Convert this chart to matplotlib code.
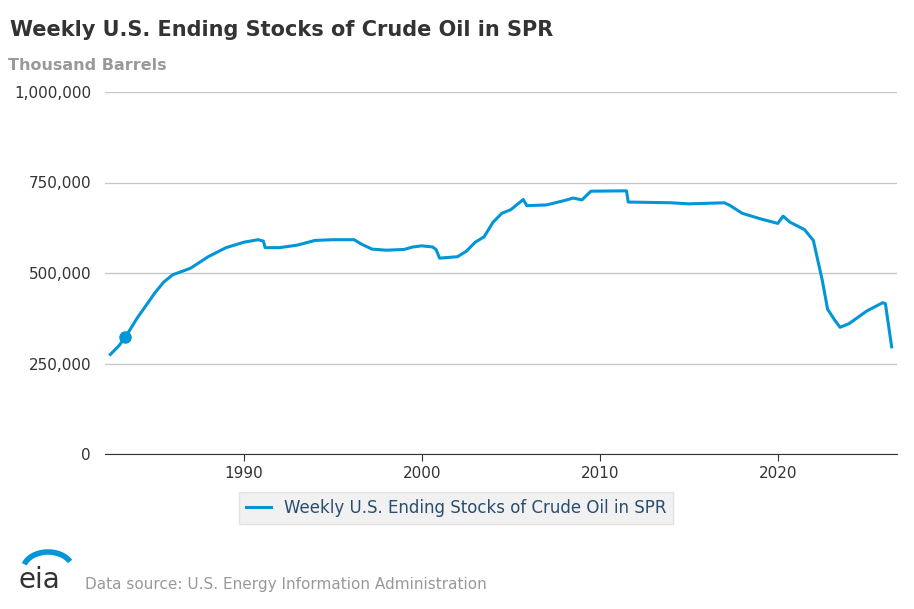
import numpy as np
import matplotlib.pyplot as plt
from matplotlib.patches import Arc

# weekly SPR ending stocks, thousand barrels
years = [1982.5, 1983.0, 1983.5, 1984.0, 1984.5, 1985.0, 1985.5, 1986.0, 1987.0, 1988.0,
         1989.0, 1990.0, 1990.8, 1991.1, 1991.2, 1992.0, 1993.0, 1994.0, 1995.0, 1996.2,
         1996.6, 1997.2, 1998.0, 1999.0, 1999.5, 2000.0, 2000.6, 2000.8, 2001.0, 2002.0,
         2002.5, 2003.0, 2003.5, 2004.0, 2004.5, 2005.0, 2005.7, 2005.9, 2007.0, 2008.0,
         2008.5, 2009.0, 2009.5, 2011.5, 2011.6, 2014.0, 2015.0, 2017.0, 2017.3, 2018.0,
         2019.0, 2020.0, 2020.3, 2020.7, 2021.5, 2022.0, 2022.5, 2022.8, 2023.2, 2023.5,
         2024.0, 2025.0, 2025.9, 2026.05, 2026.4]
stocks = [275, 300, 335, 375, 410, 445, 475, 495, 513, 545,
          570, 585, 592, 588, 570, 570, 577, 590, 592, 592,
          580, 566, 563, 565, 572, 575, 572, 565, 541, 545,
          560, 585, 600, 640, 665, 675, 703, 686, 688, 700,
          707, 702, 726, 727, 696, 694, 691, 694, 687, 665,
          650, 637, 657, 640, 620, 590, 480, 400, 370, 350,
          360, 395, 418, 415, 296]
marker_year, marker_val = 1983.3, 323

blue = '#0096d7'
fig = plt.figure(figsize=(9.14, 6.09), dpi=100)
ax = fig.add_axes([105/914, 1-454/609, 792/914, 362/609])
ax.plot(years, np.array(stocks) * 1000, color=blue, linewidth=2.2)
ax.plot(marker_year, marker_val * 1000, 'o', color=blue, markersize=8)

ax.set_xlim(1982.2, 2026.7)
ax.set_ylim(0, 1000000)
ax.set_yticks([0, 250000, 500000, 750000, 1000000])
ax.yaxis.set_major_formatter(plt.FuncFormatter(lambda v, p: f'{int(v):,}'))
ax.set_xticks([1990, 2000, 2010, 2020])
ax.grid(axis='y', color='#c8c8c8', linewidth=1)
ax.set_axisbelow(True)
for s in ['top', 'right', 'left']:
    ax.spines[s].set_visible(False)
ax.spines['bottom'].set_color('#333333')
ax.tick_params(axis='y', length=0, labelsize=11, colors='#333333', pad=10)
ax.tick_params(axis='x', length=5, labelsize=11, colors='#333333', color='#333333')

fig.text(10/914, 1-30/609, 'Weekly U.S. Ending Stocks of Crude Oil in SPR',
         fontsize=15, fontweight='bold', color='#333333', va='center')
fig.text(8/914, 1-66/609, 'Thousand Barrels', fontsize=11.5, fontweight='bold',
         color='#999999', va='center')

leg = ax.legend(['Weekly U.S. Ending Stocks of Crude Oil in SPR'], loc='center',
                bbox_to_anchor=(456/914, 1-508/609), bbox_transform=fig.transFigure,
                frameon=True, fancybox=False, fontsize=12, handlelength=1.5)
leg.get_frame().set_facecolor('#eeeeee')
leg.get_frame().set_edgecolor('#dddddd')
for t in leg.get_texts():
    t.set_color('#2a4d6e')

fig.text(18/914, 1-580/609, 'eia', fontsize=20, color='#333333', va='center')
fig.patches.append(Arc((48/914, 1-570/609), 50/914, 36/609, theta1=30, theta2=160,
                       color=blue, linewidth=4, transform=fig.transFigure))
fig.text(85/914, 1-585/609, 'Data source: U.S. Energy Information Administration',
         fontsize=11, color='#999999', va='center')

plt.savefig('out.png', dpi=100)
